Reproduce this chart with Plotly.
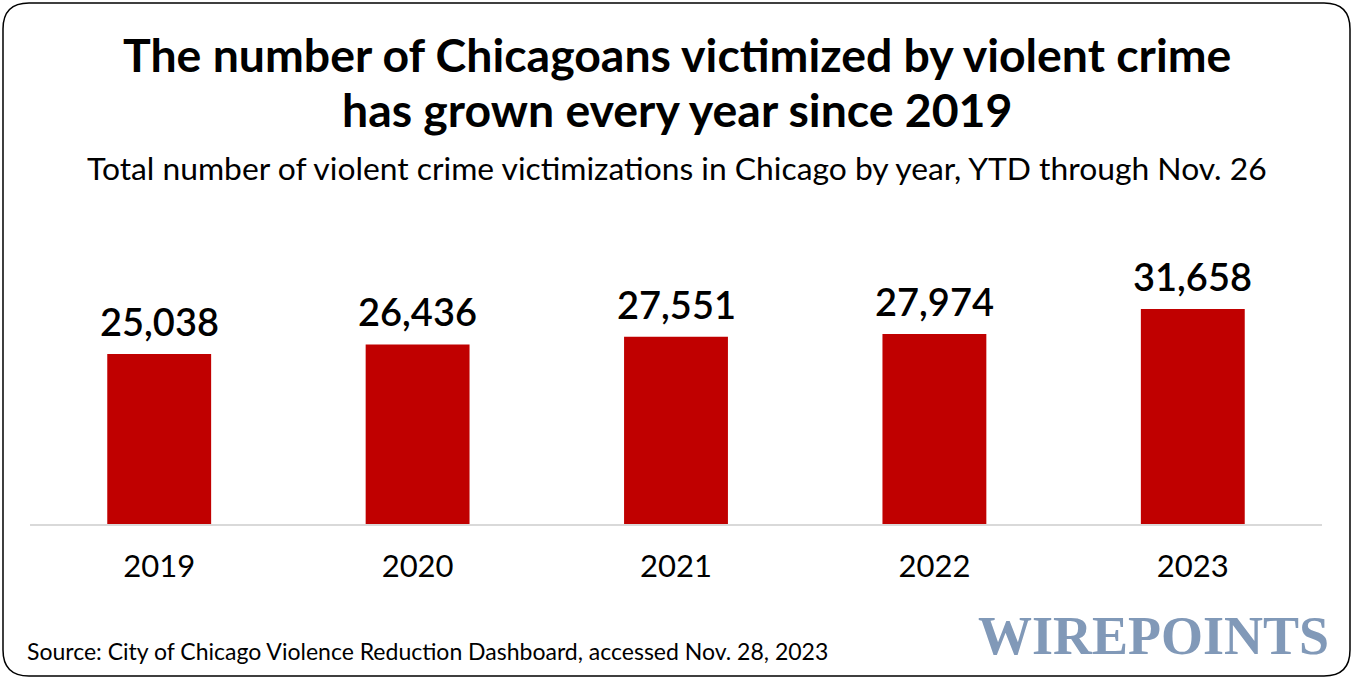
import plotly.graph_objects as go

years = ["2019", "2020", "2021", "2022", "2023"]
victims = [25038, 26436, 27551, 27974, 31658]

W, H = 1354, 680
ML, MR, MT, MB = 30, 32, 200, 156
PW, PH = W - ML - MR, H - MT - MB

def px(x):
    return (x - ML) / PW

def py(y):
    return (H - MB - y) / PH

fig = go.Figure()
fig.add_trace(go.Bar(
    x=years, y=victims,
    marker=dict(color="#c00000", line=dict(width=0)),
    hoverinfo="skip",
))

# value labels above bars (x given as category index)
for i, v in enumerate(victims):
    fig.add_annotation(x=i, y=v, xref="x", yref="y", text=f"{v:,}", showarrow=False,
                       xanchor="center", yanchor="bottom", yshift=8,
                       font=dict(family="Lato", size=38, color="#000000", weight=600))

# rounded border
x0, x1, y0, y1, r = 3, 1350, 3, 676, 26
def P(x, y):
    return f"{px(x):.5f},{py(y):.5f}"
path = (f"M {P(x0 + r, y0)} L {P(x1 - r, y0)} Q {P(x1, y0)} {P(x1, y0 + r)} "
        f"L {P(x1, y1 - r)} Q {P(x1, y1)} {P(x1 - r, y1)} "
        f"L {P(x0 + r, y1)} Q {P(x0, y1)} {P(x0, y1 - r)} "
        f"L {P(x0, y0 + r)} Q {P(x0, y0)} {P(x0 + r, y0)} Z")
fig.add_shape(type="path", path=path, xref="paper", yref="paper",
              line=dict(color="#000000", width=1.5), layer="above")

anns = [
    dict(text="<b>The number of Chicagoans victimized by violent crime</b>", x=px(677), y=py(54),
         font=dict(family="Lato", size=46.4, color="#000000"), xanchor="center", yanchor="middle"),
    dict(text="<b>has grown every year since 2019</b>", x=px(677), y=py(109),
         font=dict(family="Lato", size=46.4, color="#000000"), xanchor="center", yanchor="middle"),
    dict(text="Total number of violent crime victimizations in Chicago by year, YTD through Nov. 26",
         x=px(677), y=py(168), font=dict(family="Lato", size=31.8, color="#000000"),
         xanchor="center", yanchor="middle"),
    dict(text="Source: City of Chicago Violence Reduction Dashboard, accessed Nov. 28, 2023",
         x=px(25), y=py(651), font=dict(family="Lato", size=23, color="#000000"),
         xanchor="left", yanchor="middle"),
    dict(text="<b>WIREPOINTS</b>", x=px(1331), y=py(636),
         font=dict(family="Liberation Serif", size=54, color="#8199b8"),
         xanchor="right", yanchor="middle"),
]
for a in anns:
    a.update(xref="paper", yref="paper", showarrow=False)
    fig.add_annotation(**a)

fig.update_layout(
    width=W, height=H,
    margin=dict(l=ML, r=MR, t=MT, b=MB, autoexpand=False),
    paper_bgcolor="#ffffff", plot_bgcolor="#ffffff",
    bargap=0.598, showlegend=False,
    xaxis=dict(type="category", range=[-0.5, len(years) - 0.5], showline=True,
               linecolor="#d9d9d9", linewidth=2, showgrid=False,
               ticks="", tickfont=dict(family="Lato", size=31, color="#000000"),
               ticklabelstandoff=14, fixedrange=True, automargin=False),
    yaxis=dict(range=[0, 47700], visible=False, showgrid=False, zeroline=False,
               fixedrange=True, automargin=False),
)

fig.write_html("out.html", config={"displayModeBar": False},
               post_script="document.body.style.margin='0';document.body.style.padding='0';")
